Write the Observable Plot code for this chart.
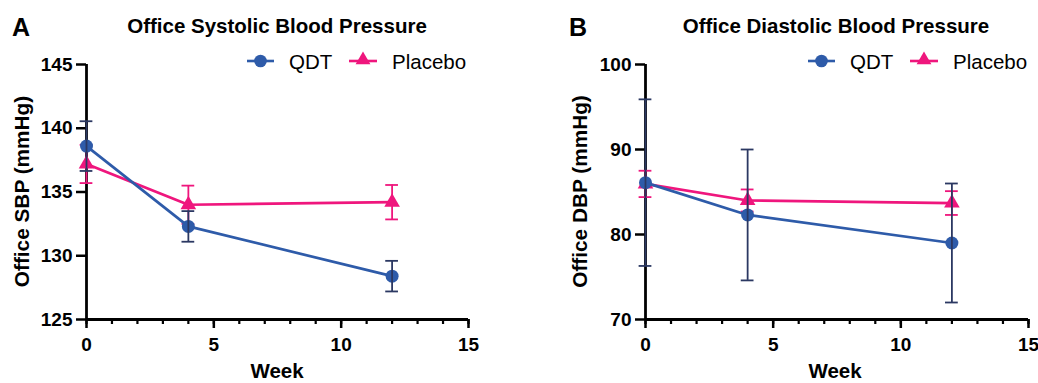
<!DOCTYPE html>
<html>
<head>
<meta charset="utf-8">
<script src="https://cdn.jsdelivr.net/npm/d3@7"></script>
<script src="https://cdn.jsdelivr.net/npm/@observablehq/plot@0.6"></script>
<style>
  html, body { margin: 0; padding: 0; background: #fff; }
  #wrap { display: flex; flex-direction: row; width: 1038px; height: 383px; overflow: hidden; }
  .panel { width: 519px; height: 383px; }
</style>
</head>
<body>
<div id="wrap"></div>
<script>
// ---- data ----
const weeks = [0, 4, 12];
const groups = ["QDT", "Placebo"];

// Panel A: Office SBP (mmHg)
const sbpQDT = [138.6, 132.3, 128.4];
const sbpQDTerr = [1.95, 1.2, 1.2];
const sbpPlacebo = [137.2, 134.0, 134.2];
const sbpPlaceboErr = [1.5, 1.5, 1.35];

// Panel B: Office DBP (mmHg)
const dbpQDT = [86.1, 82.3, 79.0];
const dbpQDTerr = [9.8, 7.7, 7.0];
const dbpPlacebo = [85.95, 84.0, 83.7];
const dbpPlaceboErr = [1.55, 1.3, 1.4];

const xTicks = [0, 5, 10, 15];
const xMinorTicks = d3.range(0, 16);
const sbpTicks = [125, 130, 135, 140, 145];
const dbpTicks = [70, 80, 90, 100];

const blue = "#2E5BA9";
const navy = "#2B3862";
const pink = "#EF167D";
const FONT = "'Liberation Sans', Arial, Helvetica, sans-serif";

function rows(vals, errs, group) {
  return weeks.map((w, i) => ({week: w, value: vals[i], err: errs[i], lo: vals[i] - errs[i], hi: vals[i] + errs[i], group}));
}

function panel(cfg) {
  const qdt = rows(cfg.qdt, cfg.qdtErr, "QDT");
  const pla = rows(cfg.pla, cfg.plaErr, "Placebo");
  const [y0, y1] = cfg.yDomain;
  const capL = d => d.week - 0.25, capR = d => d.week + 0.25;
  return Plot.plot({
    width: 519,
    height: 383,
    marginLeft: cfg.marginLeft,
    marginRight: cfg.marginRight,
    marginTop: 64,
    marginBottom: 64,
    style: {fontFamily: FONT, fontSize: "19px", fontWeight: "bold", color: "#000", background: "#fff", overflow: "visible"},
    x: {type: "linear", domain: [0, 15]},
    y: {type: "linear", domain: cfg.yDomain},
    marks: [
      Plot.axisX({ticks: xMinorTicks, tickSize: 5, text: null, strokeWidth: 2.2, label: null}),
      Plot.axisX({ticks: xTicks, tickSize: 9, tickPadding: 9, strokeWidth: 2.5, label: null, fontSize: 19, fontWeight: "bold"}),
      Plot.axisY({ticks: cfg.yTicks, tickSize: 10, tickPadding: 4, strokeWidth: 2.5, label: null, fontSize: 19, fontWeight: "bold"}),
      Plot.ruleY([y0], {x1: 0, x2: 15, stroke: "#000", strokeWidth: 2.8}),
      Plot.ruleX([0], {y1: y0, y2: y1, stroke: "#000", strokeWidth: 2.8}),
      // placebo
      Plot.line(pla, {x: "week", y: "value", stroke: pink, strokeWidth: 2.7}),
      Plot.ruleX(pla, {x: "week", y1: "lo", y2: "hi", stroke: pink, strokeWidth: 1.8}),
      Plot.ruleY(pla, {y: "lo", x1: capL, x2: capR, stroke: pink, strokeWidth: 1.8}),
      Plot.ruleY(pla, {y: "hi", x1: capL, x2: capR, stroke: pink, strokeWidth: 1.8}),
      Plot.dot(pla, {x: "week", y: "value", symbol: "triangle", r: 5.8, fill: pink, stroke: "none"}),
      // qdt
      Plot.line(qdt, {x: "week", y: "value", stroke: blue, strokeWidth: 2.7}),
      Plot.dot(qdt, {x: "week", y: "value", symbol: "circle", r: 6.5, fill: blue, stroke: "none"}),
      Plot.ruleX(qdt, {x: "week", y1: "lo", y2: "hi", stroke: navy, strokeWidth: 1.8}),
      Plot.ruleY(qdt, {y: "lo", x1: capL, x2: capR, stroke: navy, strokeWidth: 1.8}),
      Plot.ruleY(qdt, {y: "hi", x1: capL, x2: capR, stroke: navy, strokeWidth: 1.8})
    ]
  });
}

function txt(sel, s, x, y, size, weight, anchor) {
  return sel.append("text").text(s)
    .attr("x", x).attr("y", y)
    .attr("text-anchor", anchor)
    .style("font-size", size + "px").style("font-weight", weight)
    .attr("fill", "#000");
}

function decorate(plot, cfg) {
  const svg = d3.select(plot);
  txt(svg, cfg.letter, cfg.letterX, 36, 25, "bold", "start");
  txt(svg, cfg.title, cfg.titleX, 33, 20.5, "bold", "middle");
  svg.append("text").text(cfg.yLabel)
    .attr("transform", `translate(${cfg.yLabelX},191.5) rotate(-90)`)
    .attr("text-anchor", "middle").attr("dy", "0.35em")
    .style("font-size", "20.8px").style("font-weight", "bold").attr("fill", "#000");
  txt(svg, "Week", cfg.weekX, 378, 20.5, "bold", "middle");
  // legend
  const lg = svg.append("g");
  const L = cfg.legendX;
  lg.append("line").attr("x1", L).attr("x2", L + 27).attr("y1", 61).attr("y2", 61).attr("stroke", blue).attr("stroke-width", 2.6);
  lg.append("circle").attr("cx", L + 13.5).attr("cy", 61).attr("r", 6.3).attr("fill", blue);
  txt(lg, groups[0], L + 42, 68.5, 20.5, "normal", "start");
  const P = L + 102;
  lg.append("line").attr("x1", P).attr("x2", P + 28).attr("y1", 61).attr("y2", 61).attr("stroke", pink).attr("stroke-width", 2.6);
  lg.append("path").attr("d", d3.symbol(d3.symbolTriangle, 95)()).attr("transform", `translate(${P + 14},60)`).attr("fill", pink);
  txt(lg, groups[1], P + 43, 68.5, 20.5, "normal", "start");
}

const wrap = document.getElementById("wrap");

const cfgA = {
  qdt: sbpQDT, qdtErr: sbpQDTerr, pla: sbpPlacebo, plaErr: sbpPlaceboErr,
  yDomain: [125, 145], yTicks: sbpTicks, marginLeft: 86, marginRight: 51,
  letter: "A", letterX: 12, title: "Office Systolic Blood Pressure", titleX: 277,
  yLabel: "Office SBP (mmHg)", yLabelX: 22, weekX: 277, legendX: 247
};
const cfgB = {
  qdt: dbpQDT, qdtErr: dbpQDTerr, pla: dbpPlacebo, plaErr: dbpPlaceboErr,
  yDomain: [70, 100], yTicks: dbpTicks, marginLeft: 126, marginRight: 10,
  letter: "B", letterX: 50, title: "Office Diastolic Blood Pressure", titleX: 317,
  yLabel: "Office DBP (mmHg)", yLabelX: 61, weekX: 316, legendX: 289
};

[cfgA, cfgB].forEach(cfg => {
  const plot = panel(cfg);
  const div = document.createElement("div");
  div.className = "panel";
  div.appendChild(plot);
  wrap.appendChild(div);
  decorate(plot, cfg);
});
</script>
</body>
</html>
